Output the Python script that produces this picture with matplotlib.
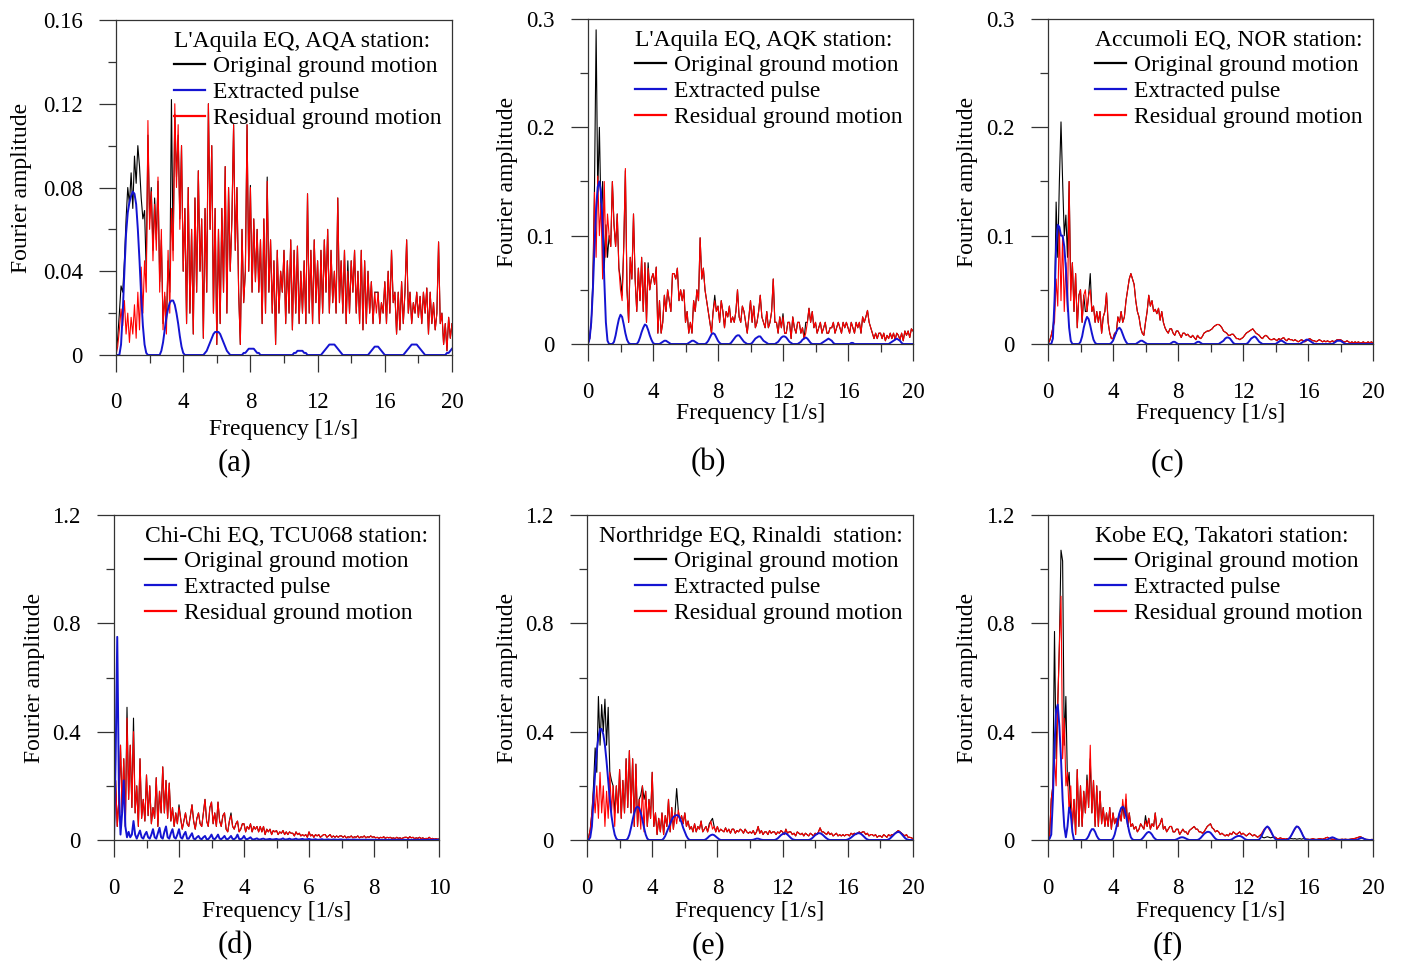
import numpy as np
import matplotlib.pyplot as plt
from matplotlib.ticker import MultipleLocator

plt.rcParams['font.family'] = ['Liberation Serif', 'DejaVu Serif']

# frequency grids [1/s]
freq_20 = np.linspace(0, 20, 201)
freq_10 = np.linspace(0, 10, 201)

# (a) L'Aquila EQ, AQA station
orig_a = [
    0, 0.008, 0.02, 0.033, 0.03, 0.045, 0.065, 0.08, 0.072, 0.087,
    0.07, 0.095, 0.082, 0.1, 0.09, 0.075, 0.065, 0.069, 0.04, 0.105,
    0.065, 0.08, 0.05, 0.075, 0.055, 0.083, 0.035, 0.055, 0.015, 0.028,
    0.015, 0.045, 0.03, 0.122, 0.05, 0.115, 0.085, 0.105, 0.065, 0.1,
    0.04, 0.07, 0.015, 0.08, 0.02, 0.06, 0.01, 0.075, 0.03, 0.088,
    0.04, 0.065, 0.008, 0.07, 0.03, 0.12, 0.06, 0.1, 0.02, 0.07,
    0.005, 0.06, 0.015, 0.07, 0.03, 0.09, 0.02, 0.08, 0.04, 0.065,
    0.11, 0.05, 0.08, 0.03, 0.005, 0.06, 0.025, 0.04, 0.11, 0.04,
    0.081, 0.03, 0.065, 0.035, 0.06, 0.03, 0.055, 0.015, 0.065, 0.02,
    0.085, 0.03, 0.055, 0.02, 0.045, 0.005, 0.05, 0.02, 0.04, 0.03,
    0.05, 0.015, 0.045, 0.02, 0.055, 0.012, 0.05, 0.02, 0.052, 0.015,
    0.04, 0.02, 0.045, 0.015, 0.077, 0.02, 0.05, 0.015, 0.055, 0.025,
    0.045, 0.015, 0.05, 0.02, 0.055, 0.03, 0.06, 0.02, 0.05, 0.025,
    0.04, 0.02, 0.075, 0.025, 0.045, 0.02, 0.05, 0.015, 0.045, 0.02,
    0.045, 0.03, 0.05, 0.02, 0.04, 0.015, 0.05, 0.012, 0.045, 0.015,
    0.04, 0.02, 0.035, 0.015, 0.03, 0.03, 0.03, 0.015, 0.025, 0.02,
    0.035, 0.015, 0.04, 0.02, 0.05, 0.025, 0.03, 0.01, 0.03, 0.012,
    0.035, 0.015, 0.03, 0.055, 0.02, 0.03, 0.015, 0.025, 0.02, 0.03,
    0.018, 0.028, 0.015, 0.03, 0.02, 0.032, 0.01, 0.03, 0.015, 0.025,
    0.012, 0.02, 0.054, 0.015, 0.02, 0.005, 0.015, 0.002, 0.018, 0.008,
    0.015]
pulse_a = [
    0, 0, 0, 0.005, 0.02, 0.04, 0.058, 0.068, 0.073, 0.076,
    0.078, 0.077, 0.072, 0.06, 0.045, 0.028, 0.014, 0.005, 0.001, 0,
    0, 0, 0, 0, 0, 0, 0, 0.002, 0.006, 0.012,
    0.018, 0.022, 0.025, 0.026, 0.026, 0.024, 0.02, 0.015, 0.009, 0.004,
    0.001, 0, 0, 0, 0, 0, 0, 0, 0, 0,
    0, 0, 0, 0.001, 0.002, 0.004, 0.006, 0.008, 0.01, 0.011,
    0.011, 0.011, 0.01, 0.008, 0.006, 0.004, 0.002, 0.001, 0, 0,
    0, 0, 0, 0, 0, 0, 0.001, 0.001, 0.002, 0.003,
    0.003, 0.003, 0.003, 0.002, 0.001, 0.001, 0, 0, 0, 0,
    0, 0, 0, 0, 0, 0, 0, 0, 0, 0,
    0, 0, 0, 0, 0, 0, 0.001, 0.001, 0.002, 0.002,
    0.002, 0.002, 0.001, 0.001, 0, 0, 0, 0, 0, 0,
    0, 0, 0, 0.001, 0.002, 0.003, 0.004, 0.005, 0.005, 0.005,
    0.005, 0.004, 0.003, 0.002, 0.001, 0, 0, 0, 0, 0,
    0, 0, 0, 0, 0, 0, 0, 0, 0, 0,
    0, 0.001, 0.002, 0.003, 0.004, 0.004, 0.004, 0.003, 0.002, 0.001,
    0, 0, 0, 0, 0, 0, 0, 0, 0, 0,
    0, 0, 0.001, 0.002, 0.003, 0.004, 0.005, 0.005, 0.005, 0.005,
    0.004, 0.003, 0.002, 0.001, 0, 0, 0, 0, 0, 0,
    0, 0, 0, 0, 0, 0, 0, 0.001, 0.001, 0.002,
    0.003]
resid_a = [
    0, 0.004, 0.012, 0.022, 0.014, 0.026, 0.01, 0.02, 0.006, 0.018,
    0.01, 0.024, 0.008, 0.03, 0.012, 0.042, 0.02, 0.045, 0.03, 0.112,
    0.06, 0.078, 0.045, 0.072, 0.05, 0.085, 0.03, 0.06, 0.012, 0.03,
    0.01, 0.05, 0.02, 0.07, 0.045, 0.12, 0.08, 0.11, 0.06, 0.1,
    0.04, 0.07, 0.015, 0.08, 0.02, 0.06, 0.01, 0.075, 0.03, 0.088,
    0.04, 0.065, 0.008, 0.07, 0.03, 0.12, 0.06, 0.1, 0.02, 0.07,
    0.005, 0.06, 0.015, 0.07, 0.03, 0.09, 0.02, 0.08, 0.04, 0.065,
    0.11, 0.05, 0.08, 0.03, 0.005, 0.06, 0.025, 0.04, 0.11, 0.04,
    0.08, 0.03, 0.065, 0.035, 0.06, 0.03, 0.055, 0.015, 0.065, 0.02,
    0.083, 0.03, 0.055, 0.02, 0.045, 0.005, 0.05, 0.02, 0.04, 0.03,
    0.05, 0.015, 0.045, 0.02, 0.055, 0.012, 0.05, 0.02, 0.052, 0.015,
    0.04, 0.02, 0.045, 0.015, 0.077, 0.02, 0.05, 0.015, 0.055, 0.025,
    0.045, 0.015, 0.05, 0.02, 0.055, 0.03, 0.06, 0.02, 0.05, 0.025,
    0.04, 0.02, 0.075, 0.025, 0.045, 0.02, 0.05, 0.015, 0.04, 0.02,
    0.045, 0.03, 0.05, 0.02, 0.04, 0.015, 0.05, 0.012, 0.045, 0.015,
    0.04, 0.02, 0.035, 0.015, 0.03, 0.02, 0.03, 0.015, 0.025, 0.02,
    0.035, 0.015, 0.04, 0.02, 0.05, 0.025, 0.03, 0.01, 0.03, 0.012,
    0.035, 0.015, 0.03, 0.055, 0.02, 0.03, 0.015, 0.025, 0.02, 0.03,
    0.018, 0.028, 0.015, 0.03, 0.02, 0.032, 0.01, 0.03, 0.015, 0.025,
    0.012, 0.02, 0.054, 0.015, 0.02, 0.005, 0.015, 0.002, 0.018, 0.008,
    0.015]

# (b) L'Aquila EQ, AQK station
orig_b = [
    0, 0.005, 0.02, 0.06, 0.145, 0.29, 0.14, 0.2, 0.12, 0.15,
    0.07, 0.11, 0.08, 0.1, 0.09, 0.15, 0.11, 0.09, 0.12, 0.07,
    0.06, 0.045, 0.09, 0.16, 0.05, 0.02, 0.08, 0.06, 0.12, 0.06,
    0.03, 0.07, 0.04, 0.08, 0.03, 0.075, 0.02, 0.075, 0.05, 0.06,
    0.065, 0.055, 0.071, 0.01, 0.04, 0.01, 0.02, 0.045, 0.03, 0.05,
    0.04, 0.03, 0.065, 0.065, 0.06, 0.07, 0.04, 0.05, 0.04, 0.05,
    0.02, 0.03, 0.01, 0.02, 0.01, 0.04, 0.03, 0.05, 0.04, 0.098,
    0.06, 0.07, 0.05, 0.04, 0.03, 0.02, 0.01, 0.03, 0.045, 0.03,
    0.035, 0.02, 0.04, 0.03, 0.015, 0.03, 0.025, 0.035, 0.02, 0.025,
    0.02, 0.03, 0.05, 0.025, 0.02, 0.035, 0.03, 0.02, 0.01, 0.025,
    0.04, 0.02, 0.035, 0.015, 0.02, 0.03, 0.045, 0.025, 0.02, 0.015,
    0.03, 0.015, 0.02, 0.03, 0.06, 0.02, 0.02, 0.01, 0.025, 0.015,
    0.028, 0.01, 0.01, 0.02, 0.02, 0.005, 0.025, 0.015, 0.01, 0.02,
    0.02, 0.01, 0.015, 0.005, 0.02, 0.02, 0.033, 0.02, 0.03, 0.015,
    0.02, 0.01, 0.015, 0.02, 0.01, 0.015, 0.02, 0.01, 0.01, 0.015,
    0.015, 0.02, 0.01, 0.015, 0.02, 0.015, 0.01, 0.02, 0.015, 0.02,
    0.015, 0.01, 0.02, 0.015, 0.01, 0.02, 0.015, 0.02, 0.01, 0.025,
    0.02, 0.025, 0.031, 0.02, 0.015, 0.01, 0.005, 0.01, 0.005, 0.01,
    0.01, 0.005, 0.01, 0.003, 0.008, 0.005, 0.01, 0.005, 0.01, 0.004,
    0.01, 0.008, 0.004, 0.01, 0.003, 0.012, 0.008, 0.012, 0.006, 0.014,
    0.012]
pulse_b = [
    0, 0.005, 0.02, 0.05, 0.09, 0.125, 0.145, 0.15, 0.14, 0.11,
    0.06, 0.02, 0.003, 0, 0, 0, 0.002, 0.008, 0.016, 0.023,
    0.027, 0.025, 0.018, 0.01, 0.004, 0.001, 0, 0, 0, 0,
    0, 0.002, 0.006, 0.011, 0.015, 0.018, 0.017, 0.013, 0.008, 0.004,
    0.001, 0, 0, 0, 0, 0.001, 0.002, 0.003, 0.003, 0.002,
    0.001, 0, 0, 0, 0, 0, 0, 0, 0, 0,
    0, 0, 0.001, 0.002, 0.003, 0.003, 0.002, 0.001, 0, 0,
    0, 0, 0, 0.001, 0.003, 0.006, 0.009, 0.01, 0.009, 0.006,
    0.003, 0.001, 0, 0, 0, 0, 0, 0, 0.001, 0.003,
    0.005, 0.007, 0.008, 0.008, 0.006, 0.004, 0.002, 0.001, 0, 0,
    0, 0.001, 0.003, 0.005, 0.006, 0.007, 0.007, 0.005, 0.003, 0.002,
    0.001, 0, 0, 0, 0, 0, 0.001, 0.002, 0.004, 0.006,
    0.007, 0.007, 0.006, 0.004, 0.002, 0.001, 0, 0, 0, 0,
    0.001, 0.002, 0.004, 0.005, 0.006, 0.005, 0.003, 0.001, 0, 0,
    0, 0, 0, 0, 0.001, 0.002, 0.003, 0.004, 0.005, 0.004,
    0.003, 0.001, 0, 0, 0, 0, 0, 0, 0, 0,
    0, 0, 0.001, 0.001, 0, 0, 0, 0, 0, 0,
    0, 0, 0, 0, 0, 0, 0, 0, 0, 0,
    0, 0, 0, 0, 0, 0, 0.001, 0.002, 0.003, 0.004,
    0.005, 0.004, 0.003, 0.001, 0, 0, 0, 0, 0, 0,
    0]
resid_b = [
    0, 0.005, 0.02, 0.05, 0.14, 0.08, 0.155, 0.1, 0.13, 0.06,
    0.15, 0.08, 0.12, 0.1, 0.09, 0.15, 0.11, 0.09, 0.12, 0.07,
    0.05, 0.04, 0.09, 0.162, 0.05, 0.02, 0.08, 0.06, 0.12, 0.06,
    0.03, 0.07, 0.04, 0.08, 0.03, 0.075, 0.02, 0.07, 0.05, 0.06,
    0.065, 0.055, 0.071, 0.01, 0.04, 0.01, 0.02, 0.045, 0.03, 0.05,
    0.04, 0.03, 0.065, 0.065, 0.06, 0.07, 0.04, 0.05, 0.04, 0.05,
    0.02, 0.03, 0.01, 0.02, 0.01, 0.04, 0.03, 0.05, 0.04, 0.098,
    0.06, 0.07, 0.05, 0.04, 0.03, 0.02, 0.01, 0.03, 0.04, 0.03,
    0.035, 0.02, 0.04, 0.03, 0.015, 0.03, 0.025, 0.035, 0.02, 0.025,
    0.02, 0.03, 0.05, 0.025, 0.02, 0.035, 0.03, 0.02, 0.01, 0.025,
    0.04, 0.02, 0.035, 0.015, 0.02, 0.03, 0.045, 0.025, 0.02, 0.015,
    0.03, 0.015, 0.02, 0.03, 0.06, 0.02, 0.02, 0.01, 0.025, 0.015,
    0.025, 0.01, 0.01, 0.02, 0.02, 0.005, 0.025, 0.015, 0.01, 0.02,
    0.02, 0.01, 0.015, 0.005, 0.01, 0.02, 0.033, 0.02, 0.03, 0.015,
    0.02, 0.01, 0.015, 0.02, 0.01, 0.015, 0.02, 0.01, 0.01, 0.015,
    0.015, 0.02, 0.01, 0.015, 0.02, 0.015, 0.01, 0.02, 0.015, 0.02,
    0.015, 0.01, 0.02, 0.015, 0.01, 0.02, 0.015, 0.02, 0.01, 0.025,
    0.02, 0.025, 0.031, 0.02, 0.015, 0.01, 0.005, 0.01, 0.005, 0.01,
    0.01, 0.005, 0.01, 0.003, 0.008, 0.005, 0.01, 0.005, 0.01, 0.004,
    0.01, 0.008, 0.004, 0.01, 0.003, 0.012, 0.008, 0.012, 0.006, 0.014,
    0.012]

# (c) Accumoli EQ, NOR station
orig_c = [
    0, 0.003, 0.008, 0.015, 0.03, 0.131, 0.08, 0.15, 0.205, 0.15,
    0.1, 0.119, 0.08, 0.15, 0.05, 0.075, 0.03, 0.065, 0.015, 0.045,
    0.05, 0.02, 0.045, 0.03, 0.03, 0.045, 0.065, 0.03, 0.035, 0.02,
    0.03, 0.02, 0.03, 0.01, 0.025, 0.03, 0.047, 0.02, 0.01, 0.005,
    0.005, 0.01, 0.01, 0.025, 0.02, 0.03, 0.02, 0.025, 0.04, 0.05,
    0.06, 0.065, 0.06, 0.055, 0.04, 0.03, 0.025, 0.015, 0.01, 0.008,
    0.02, 0.03, 0.045, 0.035, 0.04, 0.03, 0.032, 0.028, 0.033, 0.022,
    0.03, 0.02, 0.015, 0.012, 0.01, 0.014, 0.014, 0.01, 0.008, 0.012,
    0.012, 0.009, 0.006, 0.01, 0.01, 0.008, 0.009, 0.007, 0.006, 0.008,
    0.006, 0.004, 0.008, 0.006, 0.005, 0.007, 0.01, 0.011, 0.012, 0.012,
    0.013, 0.014, 0.016, 0.017, 0.018, 0.018, 0.017, 0.015, 0.012, 0.011,
    0.01, 0.008, 0.008, 0.009, 0.009, 0.007, 0.005, 0.005, 0.004, 0.005,
    0.006, 0.008, 0.01, 0.011, 0.012, 0.013, 0.014, 0.012, 0.01, 0.009,
    0.008, 0.006, 0.005, 0.007, 0.008, 0.007, 0.005, 0.004, 0.004, 0.005,
    0.004, 0.003, 0.005, 0.004, 0.005, 0.006, 0.004, 0.003, 0.005, 0.004,
    0.004, 0.003, 0.004, 0.003, 0.002, 0.003, 0.004, 0.003, 0.002, 0.003,
    0.004, 0.005, 0.004, 0.003, 0.003, 0.002, 0.003, 0.004, 0.003, 0.002,
    0.003, 0.002, 0.003, 0.002, 0.002, 0.003, 0.002, 0.003, 0.004, 0.004,
    0.004, 0.003, 0.002, 0.002, 0.003, 0.002, 0.001, 0.002, 0.001, 0.002,
    0.001, 0.002, 0.001, 0.001, 0.002, 0.001, 0.001, 0.002, 0.001, 0.002,
    0.001]
pulse_c = [
    0, 0, 0, 0.005, 0.04, 0.09, 0.11, 0.108, 0.1, 0.1,
    0.09, 0.07, 0.04, 0.015, 0.003, 0, 0, 0, 0, 0,
    0.002, 0.007, 0.015, 0.021, 0.025, 0.023, 0.017, 0.01, 0.004, 0.001,
    0, 0, 0, 0, 0, 0, 0, 0, 0, 0.001,
    0.003, 0.007, 0.011, 0.014, 0.015, 0.013, 0.009, 0.005, 0.002, 0,
    0, 0, 0, 0, 0, 0.001, 0.002, 0.003, 0.003, 0.002,
    0.001, 0, 0, 0, 0, 0, 0, 0, 0, 0,
    0, 0, 0, 0, 0, 0, 0.001, 0.002, 0.002, 0.001,
    0, 0, 0, 0, 0, 0, 0, 0, 0, 0,
    0, 0.001, 0.002, 0.002, 0.001, 0, 0, 0, 0, 0,
    0, 0, 0, 0, 0, 0, 0.001, 0.002, 0.003, 0.005,
    0.006, 0.006, 0.005, 0.003, 0.001, 0, 0, 0, 0, 0,
    0, 0, 0, 0.001, 0.003, 0.005, 0.006, 0.007, 0.006, 0.004,
    0.002, 0.001, 0, 0, 0, 0, 0, 0, 0, 0,
    0, 0.001, 0.002, 0.003, 0.003, 0.002, 0.001, 0, 0, 0,
    0, 0, 0, 0, 0, 0, 0.001, 0.002, 0.003, 0.004,
    0.004, 0.003, 0.002, 0.001, 0, 0, 0, 0, 0, 0,
    0, 0, 0, 0, 0, 0, 0.001, 0.002, 0.003, 0.003,
    0.003, 0.002, 0.001, 0, 0, 0, 0, 0, 0, 0,
    0, 0, 0, 0, 0, 0, 0, 0, 0, 0,
    0]
resid_c = [
    0, 0.003, 0.008, 0.015, 0.02, 0.06, 0.035, 0.108, 0.04, 0.1,
    0.03, 0.075, 0.03, 0.15, 0.04, 0.075, 0.03, 0.065, 0.015, 0.045,
    0.05, 0.02, 0.045, 0.05, 0.03, 0.045, 0.05, 0.03, 0.035, 0.02,
    0.03, 0.02, 0.03, 0.01, 0.025, 0.03, 0.047, 0.02, 0.01, 0.005,
    0.005, 0.01, 0.01, 0.025, 0.02, 0.03, 0.02, 0.025, 0.04, 0.05,
    0.06, 0.065, 0.06, 0.055, 0.04, 0.03, 0.025, 0.015, 0.01, 0.008,
    0.02, 0.03, 0.045, 0.035, 0.04, 0.03, 0.032, 0.028, 0.033, 0.022,
    0.03, 0.02, 0.015, 0.012, 0.01, 0.014, 0.014, 0.01, 0.008, 0.012,
    0.012, 0.009, 0.006, 0.01, 0.01, 0.008, 0.009, 0.007, 0.006, 0.008,
    0.006, 0.004, 0.008, 0.006, 0.005, 0.007, 0.01, 0.011, 0.012, 0.012,
    0.013, 0.014, 0.016, 0.017, 0.018, 0.018, 0.017, 0.015, 0.012, 0.011,
    0.01, 0.008, 0.008, 0.009, 0.009, 0.007, 0.005, 0.005, 0.004, 0.005,
    0.006, 0.008, 0.01, 0.011, 0.012, 0.013, 0.014, 0.012, 0.01, 0.009,
    0.008, 0.006, 0.005, 0.007, 0.008, 0.007, 0.005, 0.004, 0.004, 0.005,
    0.004, 0.003, 0.005, 0.004, 0.005, 0.006, 0.004, 0.003, 0.005, 0.004,
    0.004, 0.003, 0.004, 0.003, 0.002, 0.003, 0.004, 0.003, 0.002, 0.003,
    0.004, 0.005, 0.004, 0.003, 0.003, 0.002, 0.003, 0.004, 0.003, 0.002,
    0.003, 0.002, 0.003, 0.002, 0.002, 0.003, 0.002, 0.003, 0.004, 0.004,
    0.004, 0.003, 0.002, 0.002, 0.003, 0.002, 0.001, 0.002, 0.001, 0.002,
    0.001, 0.002, 0.001, 0.001, 0.002, 0.001, 0.001, 0.002, 0.001, 0.002,
    0.001]

# (d) Chi-Chi EQ, TCU068 station (0-10 Hz)
orig_d = [
    0, 0.22, 0.05, 0.15, 0.35, 0.1, 0.3, 0.05, 0.49, 0.15,
    0.35, 0.12, 0.45, 0.1, 0.2, 0.05, 0.3, 0.08, 0.15, 0.07,
    0.24, 0.09, 0.2, 0.06, 0.12, 0.08, 0.23, 0.05, 0.18, 0.1,
    0.27, 0.1, 0.22, 0.08, 0.21, 0.07, 0.12, 0.05, 0.1, 0.06,
    0.13, 0.08, 0.04, 0.07, 0.1, 0.06, 0.05, 0.09, 0.13, 0.07,
    0.04, 0.08, 0.1, 0.06, 0.05, 0.1, 0.15, 0.07, 0.05, 0.12,
    0.14, 0.06, 0.1, 0.05, 0.14, 0.07, 0.05, 0.09, 0.1, 0.04,
    0.03, 0.07, 0.1, 0.05, 0.04, 0.06, 0.07, 0.03, 0.04, 0.06,
    0.06, 0.03, 0.05, 0.04, 0.06, 0.03, 0.05, 0.04, 0.05, 0.03,
    0.05, 0.03, 0.05, 0.02, 0.04, 0.03, 0.04, 0.02, 0.035, 0.03,
    0.035, 0.02, 0.03, 0.025, 0.035, 0.02, 0.03, 0.02, 0.03, 0.025,
    0.025, 0.015, 0.03, 0.02, 0.025, 0.015, 0.02, 0.015, 0.02, 0.01,
    0.03, 0.015, 0.02, 0.01, 0.02, 0.015, 0.02, 0.01, 0.015, 0.02,
    0.02, 0.01, 0.015, 0.02, 0.01, 0.015, 0.01, 0.015, 0.01, 0.015,
    0.015, 0.01, 0.015, 0.008, 0.012, 0.01, 0.015, 0.008, 0.012, 0.01,
    0.015, 0.008, 0.012, 0.01, 0.015, 0.008, 0.012, 0.01, 0.015, 0.01,
    0.012, 0.008, 0.01, 0.006, 0.01, 0.008, 0.012, 0.006, 0.01, 0.008,
    0.01, 0.006, 0.008, 0.005, 0.01, 0.006, 0.008, 0.005, 0.008, 0.01,
    0.01, 0.006, 0.012, 0.008, 0.01, 0.005, 0.008, 0.006, 0.01, 0.005,
    0.008, 0.004, 0.006, 0.005, 0.01, 0.004, 0.006, 0.003, 0.005, 0.003,
    0.004]
pulse_d = [
    0, 0.3, 0.75, 0.2, 0.02, 0.1, 0.22, 0.05, 0.01, 0.03,
    0.01, 0.02, 0.07, 0.02, 0.005, 0.02, 0.035, 0.01, 0.005, 0.02,
    0.03, 0.01, 0.005, 0.02, 0.04, 0.01, 0.005, 0.025, 0.045, 0.01,
    0.005, 0.03, 0.05, 0.01, 0.005, 0.025, 0.04, 0.01, 0.005, 0.02,
    0.04, 0.01, 0.005, 0.02, 0.03, 0.005, 0.005, 0.015, 0.025, 0.005,
    0.003, 0.01, 0.015, 0.005, 0.003, 0.01, 0.015, 0.003, 0.003, 0.01,
    0.02, 0.005, 0.003, 0.01, 0.02, 0.005, 0.003, 0.008, 0.015, 0.004,
    0.003, 0.008, 0.015, 0.004, 0.003, 0.008, 0.02, 0.004, 0.003, 0.006,
    0.015, 0.004, 0.003, 0.006, 0.01, 0.003, 0.002, 0.004, 0.006, 0.002,
    0.002, 0.004, 0.005, 0.002, 0.002, 0.003, 0.004, 0.002, 0.002, 0.003,
    0.004, 0.002, 0.002, 0.003, 0.006, 0.002, 0.002, 0.003, 0.005, 0.002,
    0.002, 0.003, 0.005, 0.002, 0.002, 0.003, 0.004, 0.002, 0.002, 0.003,
    0.004, 0.002, 0.001, 0.002, 0.003, 0.001, 0.001, 0.002, 0.003, 0.001,
    0.001, 0.002, 0.002, 0.001, 0.001, 0.002, 0.002, 0.001, 0.001, 0.002,
    0.002, 0.001, 0.001, 0.001, 0.002, 0.001, 0.001, 0.001, 0.002, 0.001,
    0.001, 0.001, 0.001, 0.001, 0.001, 0.001, 0.001, 0.001, 0.001, 0.001,
    0.001, 0.001, 0, 0.001, 0.001, 0, 0.001, 0.001, 0, 0.001,
    0.001, 0, 0.001, 0.001, 0, 0.001, 0.001, 0, 0.001, 0.001,
    0, 0.001, 0.001, 0, 0.001, 0.001, 0, 0.001, 0.001, 0,
    0.001, 0.001, 0, 0.001, 0.001, 0, 0.001, 0.001, 0, 0.001,
    0]
resid_d = [
    0, 0.22, 0.05, 0.15, 0.35, 0.1, 0.3, 0.05, 0.45, 0.15,
    0.35, 0.12, 0.4, 0.1, 0.2, 0.05, 0.3, 0.08, 0.15, 0.07,
    0.24, 0.09, 0.2, 0.06, 0.12, 0.08, 0.23, 0.05, 0.18, 0.1,
    0.27, 0.1, 0.22, 0.08, 0.21, 0.07, 0.12, 0.05, 0.1, 0.06,
    0.12, 0.08, 0.04, 0.07, 0.1, 0.06, 0.05, 0.09, 0.13, 0.07,
    0.04, 0.08, 0.1, 0.06, 0.05, 0.1, 0.15, 0.07, 0.05, 0.12,
    0.14, 0.06, 0.1, 0.05, 0.14, 0.07, 0.05, 0.09, 0.1, 0.04,
    0.03, 0.07, 0.09, 0.05, 0.04, 0.06, 0.07, 0.03, 0.04, 0.06,
    0.06, 0.03, 0.05, 0.04, 0.06, 0.03, 0.05, 0.04, 0.05, 0.03,
    0.05, 0.03, 0.05, 0.02, 0.04, 0.03, 0.04, 0.02, 0.035, 0.03,
    0.035, 0.02, 0.03, 0.025, 0.035, 0.02, 0.03, 0.02, 0.03, 0.025,
    0.025, 0.015, 0.03, 0.02, 0.025, 0.015, 0.02, 0.015, 0.02, 0.01,
    0.03, 0.015, 0.02, 0.01, 0.02, 0.015, 0.02, 0.01, 0.015, 0.02,
    0.02, 0.01, 0.015, 0.02, 0.01, 0.015, 0.01, 0.015, 0.01, 0.015,
    0.015, 0.01, 0.015, 0.008, 0.012, 0.01, 0.015, 0.008, 0.012, 0.01,
    0.015, 0.008, 0.012, 0.01, 0.015, 0.008, 0.012, 0.01, 0.015, 0.01,
    0.012, 0.008, 0.01, 0.006, 0.01, 0.008, 0.012, 0.006, 0.01, 0.008,
    0.01, 0.006, 0.008, 0.005, 0.01, 0.006, 0.008, 0.005, 0.008, 0.01,
    0.01, 0.006, 0.012, 0.008, 0.01, 0.005, 0.008, 0.006, 0.01, 0.005,
    0.008, 0.004, 0.006, 0.005, 0.01, 0.004, 0.006, 0.003, 0.005, 0.003,
    0.004]

# (e) Northridge EQ, Rinaldi station
orig_e = [
    0, 0.01, 0.04, 0.1, 0.2, 0.34, 0.25, 0.53, 0.35, 0.5,
    0.4, 0.52, 0.35, 0.49, 0.25, 0.22, 0.2, 0.1, 0.2, 0.1,
    0.26, 0.08, 0.22, 0.1, 0.3, 0.12, 0.33, 0.1, 0.3, 0.05,
    0.28, 0.05, 0.15, 0.166, 0.2, 0.15, 0.18, 0.05, 0.15, 0.08,
    0.25, 0.05, 0.1, 0.02, 0.08, 0.03, 0.1, 0.02, 0.09, 0.05,
    0.15, 0.03, 0.12, 0.04, 0.1, 0.19, 0.11, 0.07, 0.09, 0.06,
    0.1, 0.05, 0.07, 0.04, 0.05, 0.03, 0.06, 0.03, 0.05, 0.04,
    0.07, 0.03, 0.04, 0.05, 0.03, 0.06, 0.07, 0.08, 0.05, 0.03,
    0.05, 0.03, 0.04, 0.035, 0.03, 0.045, 0.03, 0.04, 0.025, 0.04,
    0.04, 0.025, 0.035, 0.03, 0.04, 0.035, 0.025, 0.04, 0.03, 0.025,
    0.03, 0.025, 0.035, 0.02, 0.03, 0.05, 0.025, 0.035, 0.02, 0.03,
    0.03, 0.02, 0.035, 0.025, 0.03, 0.03, 0.02, 0.03, 0.025, 0.035,
    0.03, 0.02, 0.04, 0.025, 0.03, 0.03, 0.02, 0.025, 0.015, 0.03,
    0.025, 0.02, 0.025, 0.015, 0.025, 0.02, 0.015, 0.025, 0.02, 0.015,
    0.025, 0.02, 0.03, 0.045, 0.03, 0.03, 0.025, 0.02, 0.03, 0.02,
    0.025, 0.015, 0.02, 0.025, 0.015, 0.02, 0.015, 0.02, 0.015, 0.02,
    0.02, 0.015, 0.025, 0.02, 0.025, 0.02, 0.025, 0.03, 0.025, 0.03,
    0.03, 0.02, 0.025, 0.015, 0.02, 0.02, 0.015, 0.02, 0.01, 0.015,
    0.015, 0.01, 0.02, 0.015, 0.01, 0.02, 0.015, 0.02, 0.02, 0.025,
    0.03, 0.035, 0.03, 0.025, 0.02, 0.015, 0.02, 0.01, 0.01, 0.008,
    0.005]
pulse_e = [
    0, 0, 0.01, 0.05, 0.15, 0.25, 0.33, 0.38, 0.41, 0.41,
    0.39, 0.35, 0.29, 0.22, 0.15, 0.09, 0.05, 0.02, 0.005, 0,
    0, 0, 0, 0, 0, 0.005, 0.02, 0.045, 0.075, 0.1,
    0.118, 0.123, 0.118, 0.1, 0.075, 0.045, 0.02, 0.005, 0, 0,
    0, 0, 0, 0, 0, 0, 0, 0.005, 0.015, 0.03,
    0.045, 0.06, 0.075, 0.085, 0.09, 0.092, 0.09, 0.08, 0.065, 0.045,
    0.03, 0.015, 0.005, 0, 0, 0, 0, 0, 0, 0,
    0, 0, 0, 0.003, 0.008, 0.014, 0.018, 0.02, 0.018, 0.013,
    0.008, 0.003, 0, 0, 0, 0, 0, 0, 0, 0,
    0, 0, 0, 0, 0, 0, 0, 0, 0, 0,
    0, 0, 0.001, 0.003, 0.005, 0.005, 0.003, 0.001, 0, 0,
    0, 0, 0, 0, 0, 0, 0.002, 0.006, 0.012, 0.018,
    0.022, 0.025, 0.024, 0.02, 0.014, 0.008, 0.003, 0.001, 0, 0,
    0, 0, 0, 0, 0, 0, 0, 0.002, 0.006, 0.012,
    0.018, 0.022, 0.025, 0.025, 0.022, 0.017, 0.011, 0.006, 0.002, 0,
    0, 0, 0, 0, 0, 0, 0, 0, 0, 0,
    0.002, 0.005, 0.009, 0.014, 0.019, 0.023, 0.025, 0.025, 0.023, 0.018,
    0.012, 0.006, 0.002, 0, 0, 0, 0, 0, 0, 0,
    0, 0, 0, 0, 0, 0.002, 0.006, 0.012, 0.018, 0.024,
    0.028, 0.03, 0.028, 0.022, 0.015, 0.008, 0.003, 0.001, 0, 0,
    0]
resid_e = [
    0, 0.01, 0.04, 0.1, 0.18, 0.1, 0.2, 0.08, 0.25, 0.1,
    0.2, 0.05, 0.18, 0.08, 0.25, 0.1, 0.2, 0.05, 0.2, 0.1,
    0.26, 0.08, 0.22, 0.1, 0.3, 0.12, 0.33, 0.1, 0.3, 0.05,
    0.28, 0.05, 0.15, 0.04, 0.2, 0.03, 0.18, 0.05, 0.15, 0.08,
    0.25, 0.05, 0.1, 0.02, 0.08, 0.03, 0.1, 0.02, 0.09, 0.05,
    0.15, 0.03, 0.12, 0.04, 0.1, 0.06, 0.11, 0.07, 0.09, 0.06,
    0.1, 0.05, 0.07, 0.04, 0.05, 0.03, 0.06, 0.03, 0.05, 0.04,
    0.07, 0.03, 0.04, 0.05, 0.03, 0.05, 0.07, 0.04, 0.05, 0.03,
    0.05, 0.03, 0.04, 0.035, 0.03, 0.045, 0.03, 0.04, 0.025, 0.04,
    0.04, 0.025, 0.035, 0.03, 0.04, 0.035, 0.025, 0.04, 0.03, 0.025,
    0.03, 0.025, 0.035, 0.02, 0.03, 0.05, 0.025, 0.035, 0.02, 0.03,
    0.03, 0.02, 0.035, 0.025, 0.03, 0.03, 0.02, 0.03, 0.025, 0.035,
    0.03, 0.02, 0.04, 0.025, 0.03, 0.03, 0.02, 0.025, 0.015, 0.03,
    0.025, 0.02, 0.025, 0.015, 0.025, 0.02, 0.015, 0.025, 0.02, 0.015,
    0.025, 0.02, 0.03, 0.045, 0.03, 0.03, 0.025, 0.02, 0.03, 0.02,
    0.025, 0.015, 0.02, 0.025, 0.015, 0.02, 0.015, 0.02, 0.015, 0.02,
    0.02, 0.015, 0.025, 0.02, 0.025, 0.02, 0.025, 0.03, 0.025, 0.03,
    0.03, 0.02, 0.025, 0.015, 0.02, 0.02, 0.015, 0.02, 0.01, 0.015,
    0.015, 0.01, 0.02, 0.015, 0.01, 0.02, 0.015, 0.02, 0.02, 0.025,
    0.03, 0.035, 0.03, 0.025, 0.02, 0.015, 0.02, 0.01, 0.01, 0.008,
    0.005]

# (f) Kobe EQ, Takatori station
orig_f = [
    0, 0.02, 0.15, 0.2, 0.77, 0.3, 0.5, 0.72, 1.07, 1.03,
    0.35, 0.53, 0.2, 0.25, 0.1, 0.05, 0.15, 0.02, 0.26, 0.05,
    0.2, 0.05, 0.18, 0.1, 0.24, 0.12, 0.3, 0.1, 0.22, 0.05,
    0.2, 0.05, 0.18, 0.06, 0.12, 0.05, 0.1, 0.05, 0.12, 0.04,
    0.1, 0.06, 0.08, 0.05, 0.1, 0.07, 0.13, 0.08, 0.15, 0.05,
    0.1, 0.05, 0.06, 0.04, 0.05, 0.03, 0.04, 0.06, 0.05, 0.04,
    0.09, 0.05, 0.08, 0.04, 0.06, 0.05, 0.1, 0.04, 0.05, 0.06,
    0.08, 0.04, 0.05, 0.03, 0.04, 0.05, 0.05, 0.03, 0.03, 0.04,
    0.04, 0.02, 0.03, 0.04, 0.03, 0.03, 0.02, 0.035, 0.04, 0.045,
    0.05, 0.04, 0.04, 0.03, 0.03, 0.025, 0.03, 0.04, 0.05, 0.055,
    0.06, 0.045, 0.04, 0.03, 0.035, 0.03, 0.02, 0.025, 0.02, 0.015,
    0.02, 0.015, 0.025, 0.02, 0.03, 0.025, 0.02, 0.025, 0.03, 0.02,
    0.025, 0.02, 0.015, 0.02, 0.025, 0.02, 0.015, 0.02, 0.015, 0.01,
    0.015, 0.02, 0.01, 0.008, 0.01, 0.012, 0.01, 0.008, 0.01, 0.01,
    0.01, 0.005, 0.005, 0.008, 0.005, 0.005, 0.003, 0.005, 0.005, 0.005,
    0.005, 0.004, 0.005, 0.003, 0.004, 0.005, 0.003, 0.005, 0.004, 0.003,
    0.003, 0.002, 0.003, 0.005, 0.003, 0.002, 0.003, 0.005, 0.004, 0.003,
    0.005, 0.008, 0.01, 0.006, 0.004, 0.003, 0.002, 0.003, 0.002, 0.002,
    0.002, 0.003, 0.002, 0.003, 0.002, 0.002, 0.003, 0.004, 0.005, 0.006,
    0.008, 0.01, 0.012, 0.01, 0.006, 0.003, 0.002, 0.002, 0.001, 0.002,
    0.002]
pulse_f = [
    0, 0.005, 0.02, 0.15, 0.35, 0.48, 0.5, 0.42, 0.3, 0.15,
    0.05, 0.01, 0.05, 0.12, 0.1, 0.03, 0, 0, 0, 0,
    0, 0, 0, 0, 0.005, 0.015, 0.03, 0.04, 0.04, 0.03,
    0.015, 0.005, 0, 0, 0, 0, 0, 0, 0, 0,
    0.005, 0.02, 0.045, 0.075, 0.1, 0.118, 0.123, 0.115, 0.09, 0.06,
    0.03, 0.01, 0.002, 0, 0, 0, 0, 0, 0.005, 0.012,
    0.02, 0.027, 0.03, 0.027, 0.02, 0.01, 0.004, 0, 0, 0,
    0, 0, 0, 0, 0, 0, 0, 0, 0, 0.002,
    0.005, 0.008, 0.01, 0.01, 0.008, 0.005, 0.002, 0, 0, 0,
    0, 0, 0, 0.003, 0.008, 0.015, 0.022, 0.027, 0.03, 0.03,
    0.027, 0.02, 0.012, 0.005, 0.001, 0, 0, 0, 0, 0,
    0, 0, 0, 0.002, 0.006, 0.01, 0.013, 0.015, 0.015, 0.013,
    0.009, 0.004, 0.001, 0, 0, 0, 0, 0, 0, 0,
    0.002, 0.01, 0.022, 0.035, 0.045, 0.05, 0.045, 0.035, 0.022, 0.01,
    0.003, 0, 0, 0, 0, 0, 0, 0, 0.003, 0.01,
    0.02, 0.032, 0.043, 0.05, 0.048, 0.04, 0.028, 0.015, 0.005, 0.001,
    0, 0, 0, 0, 0, 0, 0, 0, 0, 0,
    0, 0, 0.002, 0.005, 0.008, 0.01, 0.008, 0.005, 0.002, 0,
    0, 0, 0, 0, 0, 0, 0, 0, 0, 0,
    0, 0.003, 0.006, 0.008, 0.006, 0.003, 0.001, 0, 0, 0,
    0]
resid_f = [
    0, 0.02, 0.15, 0.2, 0.3, 0.2, 0.5, 0.72, 0.9, 0.3,
    0.45, 0.2, 0.25, 0.1, 0.2, 0.05, 0.15, 0.02, 0.26, 0.05,
    0.2, 0.05, 0.18, 0.1, 0.22, 0.12, 0.35, 0.1, 0.22, 0.05,
    0.2, 0.05, 0.18, 0.06, 0.12, 0.05, 0.1, 0.05, 0.12, 0.04,
    0.1, 0.06, 0.08, 0.05, 0.1, 0.07, 0.15, 0.08, 0.17, 0.05,
    0.1, 0.05, 0.06, 0.04, 0.05, 0.03, 0.04, 0.06, 0.05, 0.04,
    0.07, 0.05, 0.08, 0.04, 0.06, 0.05, 0.1, 0.04, 0.05, 0.06,
    0.08, 0.04, 0.05, 0.03, 0.04, 0.05, 0.05, 0.03, 0.03, 0.04,
    0.04, 0.02, 0.03, 0.04, 0.03, 0.03, 0.02, 0.035, 0.04, 0.045,
    0.05, 0.04, 0.04, 0.03, 0.03, 0.025, 0.03, 0.04, 0.05, 0.055,
    0.06, 0.045, 0.04, 0.03, 0.035, 0.03, 0.02, 0.025, 0.02, 0.015,
    0.02, 0.015, 0.025, 0.02, 0.03, 0.025, 0.02, 0.025, 0.03, 0.02,
    0.025, 0.02, 0.015, 0.02, 0.025, 0.02, 0.015, 0.02, 0.015, 0.01,
    0.015, 0.02, 0.03, 0.04, 0.045, 0.05, 0.04, 0.03, 0.02, 0.01,
    0.01, 0.005, 0.005, 0.008, 0.005, 0.005, 0.003, 0.005, 0.005, 0.01,
    0.02, 0.03, 0.04, 0.05, 0.05, 0.04, 0.03, 0.015, 0.005, 0.003,
    0.003, 0.002, 0.003, 0.005, 0.003, 0.002, 0.003, 0.005, 0.004, 0.003,
    0.005, 0.008, 0.01, 0.006, 0.004, 0.003, 0.002, 0.003, 0.002, 0.002,
    0.002, 0.003, 0.002, 0.003, 0.002, 0.002, 0.003, 0.004, 0.005, 0.006,
    0.008, 0.01, 0.012, 0.01, 0.006, 0.003, 0.002, 0.002, 0.001, 0.002,
    0.002]

titles = ["L'Aquila EQ, AQA station:", "L'Aquila EQ, AQK station:",
          "Accumoli EQ, NOR station:", "Chi-Chi EQ, TCU068 station:",
          "Northridge EQ, Rinaldi  station:", "Kobe EQ, Takatori station:"]
letters = ['(a)', '(b)', '(c)', '(d)', '(e)', '(f)']
series_names = ['Original ground motion', 'Extracted pulse', 'Residual ground motion']

yticks_a = [0, 0.04, 0.08, 0.12, 0.16]
ylabels_a = ['0', '0.04', '0.08', '0.12', '0.16']
yticks_bc = [0, 0.1, 0.2, 0.3]
ylabels_bc = ['0', '0.1', '0.2', '0.3']
yticks_def = [0, 0.4, 0.8, 1.2]
ylabels_def = ['0', '0.4', '0.8', '1.2']

panels = [
    (freq_20, orig_a, pulse_a, resid_a, yticks_a, ylabels_a, 0.02, 20, 4),
    (freq_20, orig_b, pulse_b, resid_b, yticks_bc, ylabels_bc, 0.05, 20, 4),
    (freq_20, orig_c, pulse_c, resid_c, yticks_bc, ylabels_bc, 0.05, 20, 4),
    (freq_10, orig_d, pulse_d, resid_d, yticks_def, ylabels_def, 0.2, 10, 2),
    (freq_20, orig_e, pulse_e, resid_e, yticks_def, ylabels_def, 0.2, 20, 4),
    (freq_20, orig_f, pulse_f, resid_f, yticks_def, ylabels_def, 0.2, 20, 4),
]

# layout (pixels in a 1402x967 canvas): left, right, top, bottom of each plot box
W, H = 1402, 967
boxes = [(116, 452, 20, 355), (588, 913, 19, 344), (1048, 1373, 19, 344),
         (114, 439, 515, 840), (587, 913, 515, 840), (1048, 1373, 515, 840)]
ylabel_x = [22, 507, 967, 35, 507, 967]
xlabel_y = [430, 413, 413, 912, 912, 912]
letter_pos = [(235, 463), (708, 463), (1168, 463), (235, 946), (708, 946), (1168, 946)]
leg_align = ['left', 'left', 'left', 'left', 'right', 'left']

fig = plt.figure(figsize=(W / 100, H / 100), dpi=100)

for i, (f, orig, pulse, resid, yt, yl, yminor, xmax, xstep) in enumerate(panels):
    l, r, t, b = boxes[i]
    ax = fig.add_axes([l / W, 1 - b / H, (r - l) / W, (b - t) / H])
    h_o, = ax.plot(f, orig, color='black', lw=0.8)
    h_r, = ax.plot(f, resid, color='#ff0000', lw=0.8)
    h_p, = ax.plot(f, pulse, color='#1414d2', lw=1.4)

    ax.set_xlim(0, xmax)
    ax.set_ylim(0, yt[-1])
    ax.set_xticks(np.arange(0, xmax + 0.1, xstep))
    ax.set_xticklabels([f'{v:g}' for v in np.arange(0, xmax + 0.1, xstep)])
    ax.xaxis.set_minor_locator(MultipleLocator(xstep / 2))
    ax.set_yticks(yt)
    ax.set_yticklabels(yl)
    ax.yaxis.set_minor_locator(MultipleLocator(yminor))
    ax.tick_params(which='major', direction='out', length=12, width=0.9,
                   labelsize=16.5, pad=12, color='#333333')
    ax.tick_params(axis='x', which='major', pad=15)
    ax.tick_params(which='minor', direction='out', length=6, width=0.9, color='#333333')
    for sp in ax.spines.values():
        sp.set_linewidth(0.9)
        sp.set_color('#333333')

    ax.set_xlabel('Frequency [1/s]', fontsize=17, va='center')
    ax.xaxis.set_label_coords(0.5, (b - xlabel_y[i]) / (b - t))
    ax.set_ylabel('Fourier amplitude', fontsize=17, va='center')
    ax.yaxis.set_label_coords((ylabel_x[i] - l) / (r - l), 0.5)

    leg = ax.legend([h_o, h_p, h_r], series_names, title=titles[i],
                    loc='upper right', bbox_to_anchor=(1, 1), frameon=False,
                    fontsize=17, title_fontsize=17, handlelength=1.3,
                    handletextpad=0.35, labelspacing=0.18, borderpad=0.25,
                    borderaxespad=0.2, alignment=leg_align[i])
    for ln in leg.get_lines():
        ln.set_linewidth(1.6)

    lx, ly = letter_pos[i]
    fig.text(lx / W, 1 - ly / H, letters[i], ha='center', va='center', fontsize=22)

fig.savefig('out.png', dpi=100)
